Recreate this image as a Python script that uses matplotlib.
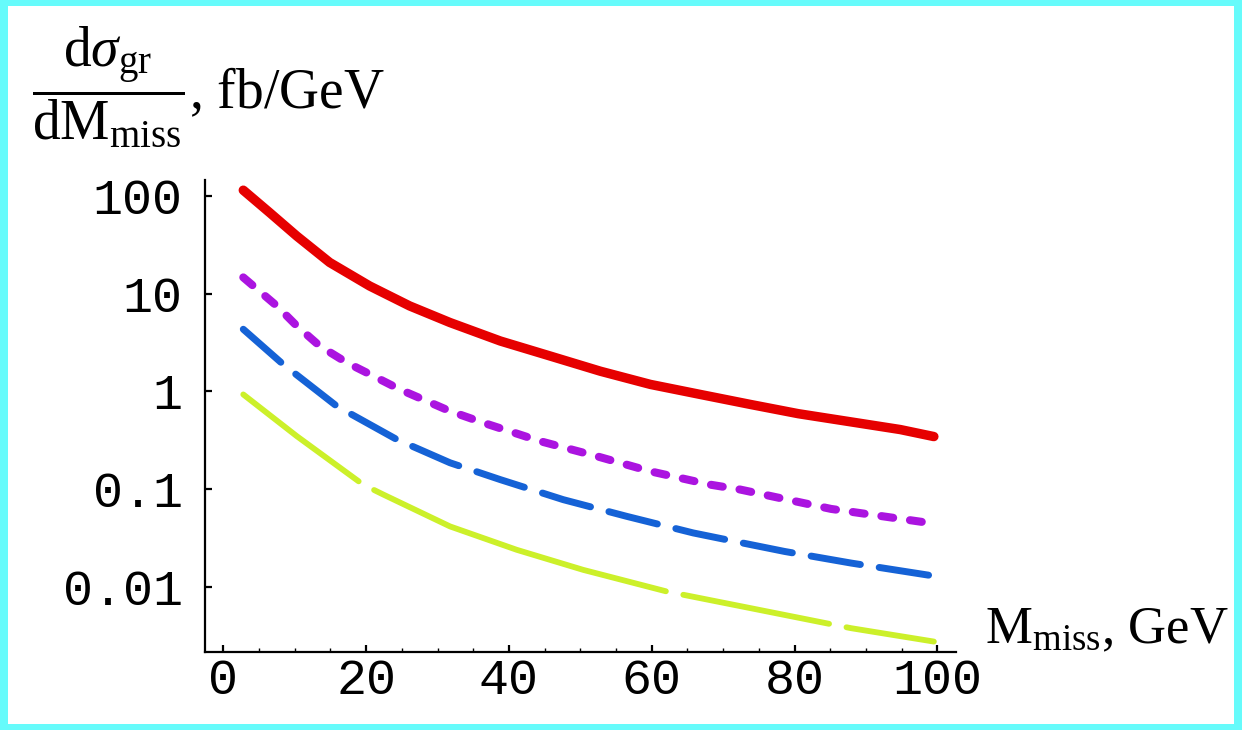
import numpy as np
import matplotlib.pyplot as plt
from matplotlib.ticker import MultipleLocator, LogLocator, NullFormatter, FixedLocator
from matplotlib.patches import Rectangle

plt.rcParams['mathtext.fontset'] = 'custom'
plt.rcParams['mathtext.rm'] = 'Liberation Serif'
plt.rcParams['mathtext.it'] = 'Liberation Serif:italic'
plt.rcParams['lines.scale_dashes'] = False

# (M_miss in GeV, dsigma/dM in fb/GeV)
m_red = [2.8, 6.5, 10.3, 14.9, 20.5, 26.1, 31.75, 38.8, 45.8, 52.8, 59.8, 66.8, 73.8, 80.5, 94.8, 99.5]
y_red = [114.8, 67.6, 38.9, 20.9, 12.0, 7.50, 5.07, 3.28, 2.30, 1.61, 1.18, 0.931, 0.736, 0.592, 0.407, 0.345]

m_mag = [2.8, 7.5, 10.3, 13.5, 17.3, 21.0, 24.7, 28.5, 31.75, 36.4, 44.4, 52.3, 59.8, 68.2, 72.4, 85.1, 98.9]
y_mag = [14.7, 7.5, 4.68, 2.92, 1.97, 1.44, 1.05, 0.796, 0.628, 0.478, 0.309, 0.217, 0.152, 0.111, 0.0989, 0.0627, 0.045]

m_blue = [2.8, 8.4, 15.9, 24.3, 31.75, 38.8, 47.6, 56.5, 65.8, 72.8, 78.6, 87.9, 99.5]
y_blue = [4.33, 1.89, 0.706, 0.322, 0.186, 0.125, 0.078, 0.0526, 0.0356, 0.028, 0.023, 0.0175, 0.0129]

m_yel = [2.8, 10.3, 19.6, 22.4, 31.75, 41.1, 50.4, 62.1, 73.8, 87.9, 99.5]
y_yel = [0.931, 0.348, 0.111, 0.088, 0.0415, 0.0239, 0.0149, 0.00895, 0.00605, 0.00377, 0.00275]

xticks = [0, 20, 40, 60, 80, 100]
yticks = [0.01, 0.1, 1, 10, 100]
ytick_labels = ['0.01', '0.1', '1', '10', '100']

fig = plt.figure(figsize=(12.42, 7.30), dpi=100, facecolor='#66fbfb')
fig.patches.append(Rectangle((8/1242, 6/730), 1226/1242, 718/730, transform=fig.transFigure,
                             facecolor='white', edgecolor='none', zorder=-5))

ax = fig.add_axes([205/1242, 78/730, 751/1242, 472/730])
ax.set_facecolor('none')
ax.set_zorder(2)

ax.plot(m_red, y_red, color='#e60000', lw=6.8, solid_capstyle='round', solid_joinstyle='round')
ax.plot(m_mag, y_mag, color='#ab14e0', lw=5.8, dashes=(8.6, 12.2), dash_capstyle='round')
ax.plot(m_blue, y_blue, color='#1562d6', lw=5.0, dashes=(36, 13.7), dash_capstyle='round')
ax.plot(m_yel, y_yel, color='#ccf02a', lw=4.2, dashes=(104, 12.8, 223, 12.8, 107, 12.8, 400, 12.8),
        dash_capstyle='round')

ax.set_yscale('log')
ax.set_xlim(-2.56, 102.6)
ax.set_ylim(0.00215, 146)

for s in ['top', 'right']:
    ax.spines[s].set_visible(False)
for s in ['left', 'bottom']:
    ax.spines[s].set_linewidth(1.6)
    ax.spines[s].set_color('black')

ax.xaxis.set_major_locator(FixedLocator(xticks))
ax.xaxis.set_minor_locator(MultipleLocator(5))
ax.yaxis.set_major_locator(FixedLocator(yticks))
ax.yaxis.set_minor_locator(LogLocator(base=10, subs=np.arange(2, 10)))
ax.yaxis.set_minor_formatter(NullFormatter())
ax.set_xticklabels([str(v) for v in xticks])
ax.set_yticklabels(ytick_labels)

ax.tick_params(which='major', direction='in', length=5, width=1.6, labelsize=36, colors='black')
ax.tick_params(which='minor', direction='in', length=3, width=1.0)
ax.tick_params(axis='y', which='major', pad=16)
ax.tick_params(axis='x', which='major', pad=4)
for lab in ax.get_xticklabels() + ax.get_yticklabels():
    lab.set_family('Liberation Mono')

fig.text(32/1242, 1 - 108/730,
         r'$\dfrac{\mathrm{d}\sigma_{\mathrm{gr}}}{\mathrm{dM}_{\mathrm{miss}}}$, fb/GeV',
         fontsize=40, family='Liberation Serif', va='baseline', ha='left')
fig.text(985/1242, 1 - 643/730, r'$\mathrm{M}_{\mathrm{miss}}$, GeV',
         fontsize=38, family='Liberation Serif', va='baseline', ha='left')

fig.savefig('out.png', dpi=100, facecolor=fig.get_facecolor())
